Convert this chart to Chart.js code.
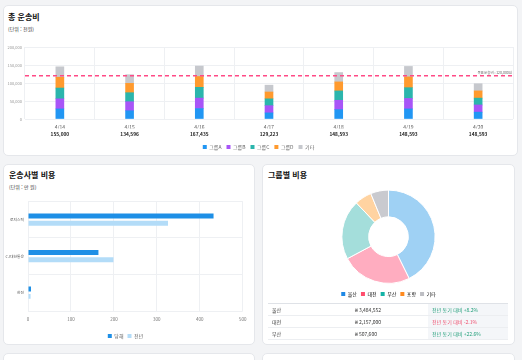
<!DOCTYPE html>
<html lang="ko">
<head>
<meta charset="UTF-8">
<title>운송비 현황</title>
<style>
  body {
    margin: 0;
    width: 522px;
    height: 360px;
    overflow: hidden;
    position: relative;
    background: #f3f4f6;
    font-family: "Noto Sans CJK KR", sans-serif;
  }
  .card {
    position: absolute;
    background: #fff;
    border: 1px solid #e5e7eb;
    border-radius: 5px;
    box-sizing: border-box;
  }
  .title {
    position: absolute;
    font-size: 8px;
    line-height: 10px;
    font-weight: 700;
    color: #111;
  }
  .sub {
    position: absolute;
    font-size: 5px;
    line-height: 6px;
    color: #333;
  }
  .box { position: absolute; }
  table {
    position: absolute;
    left: 268px;
    top: 303px;
    width: 240px;
    border-collapse: collapse;
    border-top: 1.5px solid #dfe2e7;
    font-size: 5px;
    color: #333;
  }
  td {
    height: 11px;
    padding: 0 0 0 4px;
    border-bottom: 1px solid #eceef1;
  }
  td.chg { background: #f4f6f9; }
  .up { color: #1f9e78; }
  .down { color: #ef4b6b; }
</style>
<script src="https://cdn.jsdelivr.net/npm/chart.js"></script>
</head>
<body>
  <div class="card" style="left:3px; top:5px; width:515px; height:151px;"></div>
  <div class="title" style="left:8px; top:12px;">총 운송비</div>
  <div class="sub" style="left:8px; top:26px;">(단위 : 천원)</div>
  <div class="box" style="left:4px; top:40px; width:512px; height:120px;"><canvas id="costChart"></canvas></div>

  <div class="card" style="left:3px; top:164px; width:252px; height:181px;"></div>
  <div class="title" style="left:9px; top:170px;">운송사별 비용</div>
  <div class="sub" style="left:9px; top:184px;">(단위 : 만 원)</div>
  <div class="box" style="left:4px; top:195px; width:248px; height:154px;"><canvas id="carrierChart"></canvas></div>

  <div class="card" style="left:262px; top:164px; width:253px; height:181px;"></div>
  <div class="title" style="left:268px; top:170px;">그룹별 비용</div>
  <div class="box" style="left:262px; top:183px; width:253px; height:124px;"><canvas id="groupChart"></canvas></div>
  <table>
    <tbody id="groupTable"></tbody>
  </table>

  <div class="card" style="left:3px; top:353px; width:252px; height:30px;"></div>
  <div class="card" style="left:262px; top:353px; width:253px; height:30px;"></div>

<script>
  // 총 운송비 (일자별, 그룹 누적)
  const days = ['4/14', '4/15', '4/16', '4/17', '4/18', '4/19', '4/20'];
  const dayTotals = ['155,000', '134,596', '167,435', '129,223', '148,593', '148,593', '148,593'];
  const groupA = [28000, 23000, 29000, 17000, 26000, 28000, 19000];
  const groupB = [28000, 25000, 29000, 20000, 26000, 29000, 20000];
  const groupC = [30000, 25000, 30000, 19000, 26000, 30000, 19000];
  const groupD = [30000, 26000, 30000, 19000, 25000, 30000, 20000];
  const groupEtc = [29000, 24000, 29000, 19000, 26000, 29000, 20000];
  const targetCost = 120000;
  const targetLabel = '목표운송비 : 120,000원';

  // 운송사별 비용
  const carriers = ['로지스틱', 'CJ대한통운', '한진'];
  const thisYear = [432, 164, 7];
  const lastYear = [326, 199, 6];

  // 그룹별 비용
  const regions = ['울산', '대전', '부산', '포항', '기타'];
  const regionShare = [42.7, 24.5, 20.7, 5.9, 6.2];
  const tableNames = ['울산', '대전', '부산'];
  const tableAmounts = ['₩ 3,484,552', '₩ 2,157,000', '₩ 507,600'];
  const tableChanges = ['+8.2%', '-2.1%', '+22.6%'];

  Chart.defaults.font.family = '"Noto Sans CJK KR", sans-serif';
  Chart.defaults.color = '#666';
  Chart.defaults.animation = false;

  const gridColor = '#eef0f3';

  const targetLine = {
    id: 'targetLine',
    afterDatasetsDraw(chart) {
      const {ctx, chartArea, scales} = chart;
      const y = scales.y.getPixelForValue(targetCost);
      ctx.save();
      ctx.strokeStyle = '#ff4a86';
      ctx.lineWidth = 1.5;
      ctx.setLineDash([4, 3]);
      ctx.beginPath();
      ctx.moveTo(chartArea.left, y);
      ctx.lineTo(chartArea.right, y);
      ctx.stroke();
      ctx.setLineDash([]);
      ctx.fillStyle = '#666';
      ctx.font = '3.5px "Noto Sans CJK KR"';
      ctx.textAlign = 'right';
      ctx.textBaseline = 'bottom';
      ctx.fillText(targetLabel, chartArea.right - 1, y - 1.5);
      ctx.restore();
    }
  };

  const seg = (label, data, color) => ({ label, data, backgroundColor: color, borderWidth: 0, barThickness: 8 });

  new Chart(document.getElementById('costChart'), {
    type: 'bar',
    data: {
      labels: days,
      datasets: [
        seg('그룹A', groupA, '#2196f3'),
        seg('그룹B', groupB, '#a855f7'),
        seg('그룹C', groupC, '#2bb5ac'),
        seg('그룹D', groupD, '#ff9a2e'),
        seg('기타', groupEtc, '#c6c8cd')
      ]
    },
    options: {
      responsive: true,
      maintainAspectRatio: false,
      layout: { padding: { top: 7, right: 3, bottom: 0.5 } },
      plugins: {
        legend: {
          position: 'bottom',
          labels: { boxWidth: 4, boxHeight: 4, padding: 5, font: { size: 5 }, color: '#666' }
        },
        tooltip: { enabled: false }
      },
      scales: {
        x: {
          stacked: true,
          grid: { color: gridColor, drawTicks: false },
          border: { display: false },
          ticks: { font: { size: 5 }, color: '#555', padding: 5 },
          afterFit: s => { s.height = 9.5; }
        },
        x2: {
          type: 'category',
          labels: dayTotals,
          position: 'bottom',
          grid: { display: false, drawTicks: false },
          border: { display: false },
          ticks: { font: { size: 4.8, weight: 'bold' }, color: '#222', padding: 3 },
          afterFit: s => { s.height = 11; }
        },
        y: {
          stacked: true,
          min: 0,
          max: 200000,
          grid: { color: gridColor, drawTicks: false },
          border: { display: false },
          ticks: { stepSize: 50000, font: { size: 4 }, color: '#999', padding: 3 },
          afterFit: s => { s.width = 21; }
        }
      }
    },
    plugins: [targetLine]
  });

  new Chart(document.getElementById('carrierChart'), {
    type: 'bar',
    data: {
      labels: carriers,
      datasets: [
        { label: '당해', data: thisYear, backgroundColor: '#1e8fe6', categoryPercentage: 0.4, barPercentage: 0.68 },
        { label: '전년', data: lastYear, backgroundColor: '#b3dcf8', categoryPercentage: 0.4, barPercentage: 0.68 }
      ]
    },
    options: {
      indexAxis: 'y',
      responsive: true,
      maintainAspectRatio: false,
      layout: { padding: { top: 5.7, right: 5, bottom: 0.5 } },
      plugins: {
        legend: {
          position: 'bottom',
          labels: { boxWidth: 4, boxHeight: 4, padding: 4, font: { size: 5 }, color: '#666' }
        },
        tooltip: { enabled: false }
      },
      scales: {
        x: {
          min: 0,
          max: 500,
          grid: { color: gridColor, drawTicks: false },
          border: { display: false },
          ticks: { stepSize: 100, font: { size: 4.5 }, color: '#777', padding: 5.5 },
          afterFit: s => { s.height = 18.5; }
        },
        y: {
          grid: { color: gridColor, drawTicks: false },
          border: { display: false },
          ticks: { font: { size: 3.8 }, color: '#555', padding: 4 },
          afterFit: s => { s.width = 24; }
        }
      }
    }
  });

  const sliceColors = ['#9fd1f4', '#ffadc0', '#a4dedb', '#ffd3a1', '#c9cacf'];
  const legendColors = ['#1e88e5', '#ff4d6d', '#14b3a6', '#ff8a1f', '#bdbec3'];

  new Chart(document.getElementById('groupChart'), {
    type: 'doughnut',
    data: {
      labels: regions,
      datasets: [{
        data: regionShare,
        backgroundColor: sliceColors,
        borderColor: '#fff',
        borderWidth: 1,
        radius: 46.6,
        cutout: 21.4
      }]
    },
    options: {
      responsive: true,
      maintainAspectRatio: false,
      layout: { padding: { top: 3, bottom: 0.6 } },
      plugins: {
        legend: {
          position: 'bottom',
          labels: {
            boxWidth: 4, boxHeight: 4, padding: 4, font: { size: 5 }, color: '#666',
            generateLabels: chart => chart.data.labels.map((l, i) => ({
              text: l, fillStyle: legendColors[i], strokeStyle: legendColors[i], lineWidth: 0, index: i, hidden: false
            }))
          }
        },
        tooltip: { enabled: false }
      }
    }
  });

  // 그룹별 표
  const tbody = document.getElementById('groupTable');
  tableNames.forEach((name, i) => {
    const row = document.createElement('tr');
    const cls = tableChanges[i].startsWith('-') ? 'down' : 'up';
    row.innerHTML = `<td style="width:79px">${name}</td><td style="width:73px">${tableAmounts[i]}</td><td class="chg ${cls}">전년 동기 대비 ${tableChanges[i]}</td>`;
    tbody.appendChild(row);
  });
</script>
</body>
</html>
